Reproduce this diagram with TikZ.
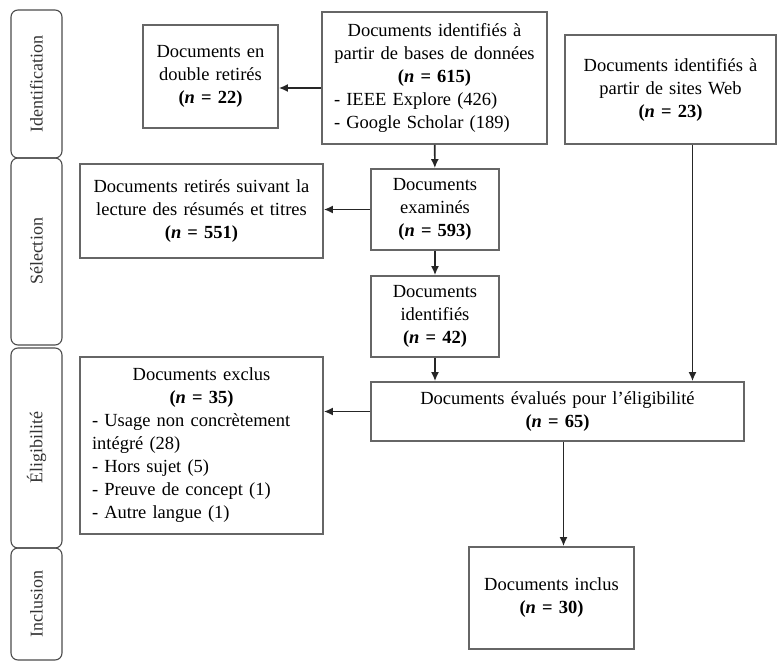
\documentclass[tikz,border=0pt]{standalone}
\usepackage{fontspec}
\setmainfont{Liberation Serif}
\usetikzlibrary{arrows.meta}
\tikzstyle{box} = [rectangle, draw=black!60, line width=1.8pt, inner xsep=6pt, inner ysep=2pt, align=center, font=\fontsize{18.5}{23}\selectfont, text=black]
\tikzstyle{tab} = [rectangle, rounded corners=7pt, draw=black!70, line width=1.1pt, rotate=90, minimum height=51pt, font=\fontsize{18}{22}\selectfont, text=black!80]
\tikzstyle{arrow} = [line width=1.6pt, draw=black!85, -{Latex[length=9pt,width=8pt]}]

\begin{document}
\begin{tikzpicture}[x=1pt, y=-1pt]
	\useasboundingbox (0,0) rectangle (777,663);
	% phases
	\node (tabid) [tab, minimum width=148pt] at (36.5,84) {Identification};
	\node (tabsel) [tab, minimum width=187pt] at (36.5,251.5) {Sélection};
	\node (tabelig) [tab, minimum width=200pt] at (36.5,448) {Éligibilité};
	\node (tabincl) [tab, minimum width=112pt] at (36.5,604) {Inclusion};
	% boxes
	\node (db) [box, align=left, text width=201pt, inner xsep=12pt, minimum height=132pt] at (434.5,78) {{\centering Documents identifiés à\\partir de bases de données\\\textbf{(\textit{n} = 615)}\par}- IEEE Explore (426)\\- Google Scholar (189)};
	\node (double) [box, text width=123pt, minimum height=103pt] at (210.5,76.5) {Documents en\\double retirés\\\textbf{(\textit{n} = 22)}};
	\node (web) [box, text width=199pt, minimum height=109pt] at (670.5,89.5) {Documents identifiés à\\partir de sites Web\\\textbf{(\textit{n} = 23)}};
	\node (retires) [box, text width=231pt, minimum height=94pt] at (201.5,211) {Documents retirés suivant la\\lecture des résumés et titres\\\textbf{(\textit{n} = 551)}};
	\node (examines) [box, text width=116pt, minimum height=81pt] at (435,209.5) {Documents\\examinés\\\textbf{(\textit{n} = 593)}};
	\node (identifies) [box, text width=116pt, minimum height=81pt] at (435,316.5) {Documents\\identifiés\\\textbf{(\textit{n} = 42)}};
	\node (excluded) [box, align=left, text width=219pt, inner xsep=12pt, minimum height=177pt] at (201.5,445.5) {{\centering Documents exclus\\\textbf{(\textit{n} = 35)}\par}- Usage non concrètement\\intégré (28)\\- Hors sujet (5)\\- Preuve de concept (1)\\- Autre langue (1)};
	\node (evalues) [box, text width=361pt, minimum height=59pt] at (557.5,411.5) {Documents évalués pour l’éligibilité\\\textbf{(\textit{n} = 65)}};
	\node (inclus) [box, text width=153pt, minimum height=102pt] at (551.5,598) {Documents inclus\\\textbf{(\textit{n} = 30)}};
	% connectors
	\coordinate (dbout) at ([yshift=-10pt]db.west);
	\coordinate (webout) at ([xshift=22pt]web.south);
	\coordinate (evalout) at ([xshift=6pt]evalues.south);
	\draw [arrow] (dbout) -- (dbout -| double.east);
	\draw [arrow] (db) -- (examines);
	\draw [arrow] (examines) -- (examines -| retires.east);
	\draw [arrow] (examines) -- (identifies);
	\draw [arrow] (identifies) -- (identifies |- evalues.north);
	\draw [arrow] (webout) -- (webout |- evalues.north);
	\draw [arrow] (evalues.west) -- (evalues.west -| excluded.east);
	\draw [arrow] (evalout) -- (evalout |- inclus.north);
\end{tikzpicture}
\end{document}
